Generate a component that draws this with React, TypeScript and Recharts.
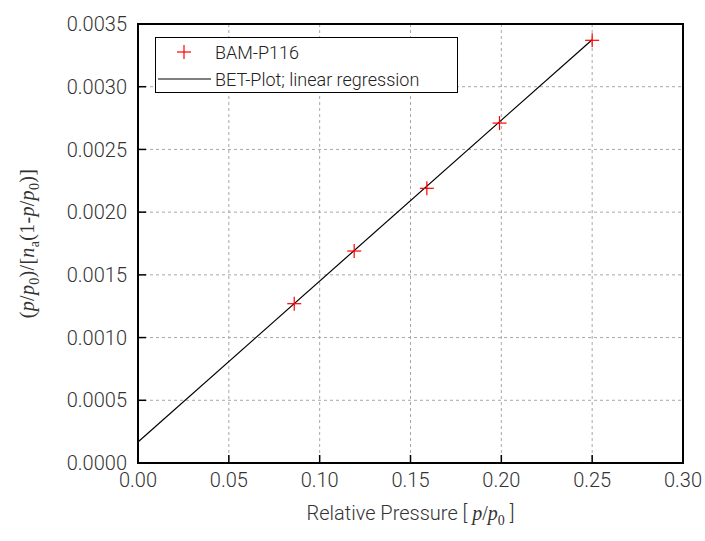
import React from 'react';
import {
  CartesianGrid,
  ReferenceArea,
  Scatter,
  ScatterChart,
  XAxis,
  YAxis,
} from 'recharts';

// measured BET points, BAM-P116
const pressure = [0.086, 0.119, 0.159, 0.199, 0.25];
const betValue = [0.00127, 0.00169, 0.00219, 0.00271, 0.00337];

// linear regression end points
const fitPressure = [0, 0.25];
const fitValue = [0.000167, 0.003375];

const xTicks = [0, 0.05, 0.1, 0.15, 0.2, 0.25, 0.3];
const yTicks = [0, 0.0005, 0.001, 0.0015, 0.002, 0.0025, 0.003, 0.0035];

const points = pressure.map((x, i) => ({ x, y: betValue[i] }));
const fitLine = fitPressure.map((x, i) => ({ x, y: fitValue[i] }));

const SANS = 'Roboto, "DejaVu Sans", sans-serif';
const SERIF = '"Liberation Serif", "DejaVu Serif", serif';
const TEXT = '#333';

const Cross = ({ cx, cy }: any) => (
  <g stroke="#ff0000" strokeWidth={1.2}>
    <line x1={cx - 7} y1={cy} x2={cx + 7} y2={cy} />
    <line x1={cx} y1={cy - 7} x2={cx} y2={cy + 7} />
  </g>
);

const NoDot = () => <g />;

const XTitle = ({ viewBox }: any) => {
  const { x, y, width } = viewBox;
  return (
    <text x={x + width / 2} y={y + 57} textAnchor="middle" fontSize={20} fill={TEXT}>
      <tspan fontFamily={SANS} fontWeight={300}>Relative Pressure [ </tspan>
      <tspan fontFamily={SERIF} fontStyle="italic">p</tspan>
      <tspan fontFamily={SERIF}>/</tspan>
      <tspan fontFamily={SERIF} fontStyle="italic">p</tspan>
      <tspan fontFamily={SERIF} fontSize={14} dy={5}>0</tspan>
      <tspan fontFamily={SANS} fontWeight={300} dy={-5}> ]</tspan>
    </text>
  );
};

const YTitle = ({ viewBox }: any) => {
  const { y, height } = viewBox;
  const cx = 34;
  const cy = y + height / 2;
  return (
    <text
      x={cx}
      y={cy}
      transform={`rotate(-90 ${cx} ${cy})`}
      textAnchor="middle"
      fontSize={20}
      fontFamily={SERIF}
      fill={TEXT}
      letterSpacing={0.3}
    >
      <tspan>(</tspan>
      <tspan fontStyle="italic">p</tspan>
      <tspan>/</tspan>
      <tspan fontStyle="italic">p</tspan>
      <tspan fontSize={14} dy={5}>0</tspan>
      <tspan dy={-5}>)/[</tspan>
      <tspan fontStyle="italic">n</tspan>
      <tspan fontSize={14} dy={5}>a</tspan>
      <tspan dy={-5}>(1-</tspan>
      <tspan fontStyle="italic">p</tspan>
      <tspan>/</tspan>
      <tspan fontStyle="italic">p</tspan>
      <tspan fontSize={14} dy={5}>0</tspan>
      <tspan dy={-5}>)]</tspan>
    </text>
  );
};

const LegendBox = () => (
  <div
    style={{
      position: 'absolute',
      left: 155,
      top: 37,
      width: 303,
      height: 56,
      border: '1px solid #000',
      background: '#fff',
      fontFamily: SANS,
      fontWeight: 300,
      fontSize: 18,
      color: '#222',
      boxSizing: 'border-box',
    }}
  >
    <div style={{ display: 'flex', alignItems: 'center', height: 28 }}>
      <svg width={58} height={20}>
        <line x1={21} y1={10} x2={35} y2={10} stroke="#ff0000" strokeWidth={1.2} />
        <line x1={28} y1={3} x2={28} y2={17} stroke="#ff0000" strokeWidth={1.2} />
      </svg>
      <span style={{ marginLeft: 1 }}>BAM-P116</span>
    </div>
    <div style={{ display: 'flex', alignItems: 'center', height: 26 }}>
      <svg width={58} height={20}>
        <line x1={2} y1={10} x2={55} y2={10} stroke="#000" strokeWidth={1.2} />
      </svg>
      <span style={{ marginLeft: 1 }}>BET-Plot; linear regression</span>
    </div>
  </div>
);

export default function App() {
  return (
    <div style={{ position: 'absolute', left: 0, top: 0, width: 705, height: 541, background: '#fff' }}>
      <ScatterChart width={705} height={541} margin={{ top: 24, right: 22, bottom: 0, left: 0 }}>
        <CartesianGrid stroke="#a8a8a8" strokeDasharray="3 3" strokeWidth={1} />
        <XAxis
          type="number"
          dataKey="x"
          domain={[0, 0.3]}
          ticks={xTicks}
          tickFormatter={(v: number) => v.toFixed(2)}
          height={78}
          tickLine={{ stroke: '#000', strokeWidth: 1.5 }}
          tickSize={-8}
          tickMargin={18}
          axisLine={{ stroke: '#000', strokeWidth: 2 }}
          tick={{ fill: TEXT, fontSize: 20, fontFamily: SANS, fontWeight: 300 }}
          interval={0}
          label={<XTitle />}
        />
        <YAxis
          type="number"
          dataKey="y"
          domain={[0, 0.0035]}
          ticks={yTicks}
          tickFormatter={(v: number) => v.toFixed(4)}
          width={138}
          tickLine={{ stroke: '#000', strokeWidth: 1.5 }}
          tickSize={-8}
          tickMargin={19}
          axisLine={{ stroke: '#000', strokeWidth: 2 }}
          tick={{ fill: TEXT, fontSize: 20, fontFamily: SANS, fontWeight: 300 }}
          interval={0}
          label={<YTitle />}
        />
        <ReferenceArea
          x1={0}
          x2={0.3}
          y1={0}
          y2={0.0035}
          fill="none"
          stroke="#000"
          strokeWidth={2}
          ifOverflow="visible"
        />
        <Scatter
          name="BET-Plot; linear regression"
          data={fitLine}
          line={{ stroke: '#000', strokeWidth: 1.2 }}
          shape={NoDot}
          isAnimationActive={false}
        />
        <Scatter
          name="BAM-P116"
          data={points}
          shape={Cross}
          isAnimationActive={false}
        />
      </ScatterChart>
      <LegendBox />
    </div>
  );
}
